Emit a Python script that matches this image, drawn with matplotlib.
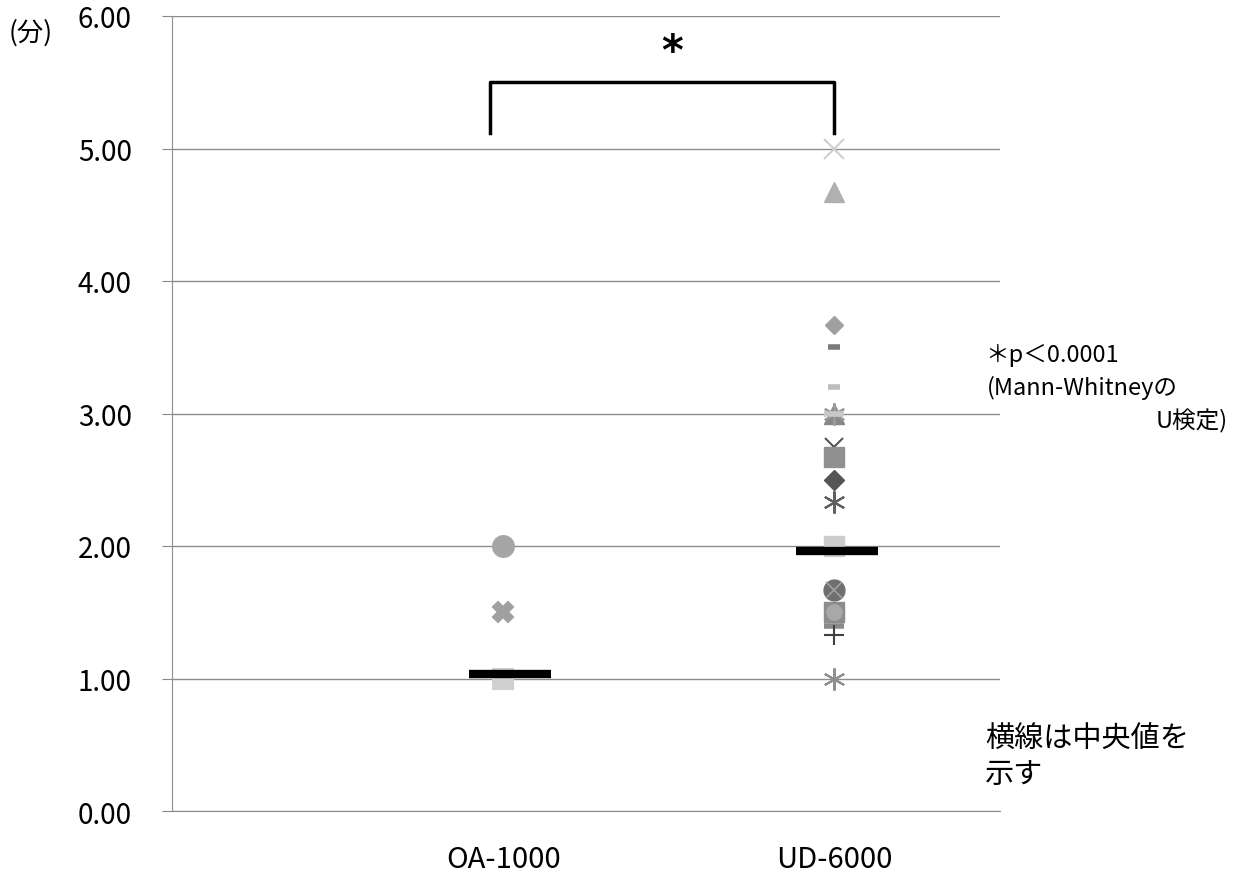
import matplotlib
matplotlib.use("Agg")
import matplotlib.pyplot as plt

plt.rcParams['font.family'] = ['Noto Sans CJK JP', 'DejaVu Sans']

categories = ['OA-1000', 'UD-6000']
oa_values = [2.0, 1.5, 1.0]
ud_values = [5.0, 4.67, 3.67, 3.5, 3.2, 3.0, 3.0, 3.0, 2.75, 2.67, 2.5, 2.33,
             2.0, 1.67, 1.5, 1.4, 1.33, 1.0]
medians = [1.035, 1.966]
yticks = [0, 1, 2, 3, 4, 5, 6]

# マーカーの見た目 (点ごと)
asterisk = (6, 2, 0)
oa_styles = [('o', '#a6a6a6', 15), ('X', '#a0a0a0', 14), ('s', '#d0d0d0', 14)]
ud_styles = [('x', '#cfcfcf', 14), ('^', '#b0b0b0', 14), ('D', '#a0a0a0', 9),
             ('_', '#7a7a7a', 9), ('_', '#bdbdbd', 9), ('^', '#888888', 14),
             (asterisk, '#999999', 16), ('_', '#c8c8c8', 14), ('x', '#555555', 13),
             ('s', '#909090', 15), ('D', '#555555', 10), (asterisk, '#606060', 16),
             ('s', '#cccccc', 14), ('o', '#6f6f6f', 15), ('s', '#8c8c8c', 15),
             ('_', '#8a8a8a', 14), ('+', '#404040', 14), (asterisk, '#8f8f8f', 16)]

fig = plt.figure(figsize=(12.35, 8.79), dpi=100)
ax = fig.add_axes([172 / 1235, 1 - 812 / 879, 828 / 1235, 795 / 879])

for val, (m, c, s) in zip(oa_values, oa_styles):
    ax.plot(1, val, marker=m, color=c, markersize=s, mew=2 if m in ('_', 'x', '+') else 1.5, zorder=3)
for val, (m, c, s) in zip(ud_values, ud_styles):
    mew = 4 if m == '_' else (1.5 if m in ('x', '+') or m == asterisk else 1)
    ax.plot(2, val, marker=m, color=c, markersize=s, mew=mew, zorder=3)
# 丸の上の×印
ax.plot(2, ud_values[13], marker='x', color='#a0a0a0', markersize=11, mew=1.2, zorder=3)
ax.plot(2, ud_values[14], marker='o', color='#a8a8a8', markersize=11, zorder=3)

# 中央値の横線 (少し右にずれている)
for i, med in enumerate(medians):
    cx = i + 1 + (0.02 if i == 0 else 0.008)
    ax.hlines(med, cx - 0.124, cx + 0.124, color='black', linewidth=6, zorder=4)

# 有意差のブラケット
ax.plot([0.96, 0.96, 2.0, 2.0], [5.12, 5.5, 5.5, 5.12], color='black', lw=2.5, zorder=4)
ax.text(1.51, 5.73, '*', ha='center', va='center', fontsize=30, fontweight='bold',
        family='DejaVu Sans')

ax.set_xlim(0, 2.5)
ax.set_ylim(0, 6)
ax.set_yticks(yticks)
ax.set_yticklabels([f'{t:.2f}' for t in yticks], fontsize=20)
ax.set_xticks([1, 2])
ax.set_xticklabels(categories, fontsize=21)
ax.tick_params(axis='x', length=0, pad=24)
ax.tick_params(axis='y', length=7, color='#888888', pad=22)
ax.grid(axis='y', color='#8c8c8c', linewidth=1)
ax.set_axisbelow(True)
for side in ('top', 'right'):
    ax.spines[side].set_visible(False)
for side in ('left', 'bottom'):
    ax.spines[side].set_color('#8c8c8c')

fig.text(9 / 1235, 1 - 33 / 879, '(分)', fontsize=19, va='center')
fig.text(985 / 1235, 1 - 355 / 879, '＊p＜0.0001', fontsize=17, va='center')
fig.text(987 / 1235, 1 - 388 / 879, '(Mann-Whitneyの', fontsize=17, va='center')
fig.text(1228 / 1235, 1 - 421 / 879, 'U検定)', fontsize=17, va='center', ha='right')
fig.text(985 / 1235, 1 - 740 / 879, '横線は中央値を', fontsize=21, va='center')
fig.text(985 / 1235, 1 - 775 / 879, '示す', fontsize=21, va='center')

fig.savefig('out.png', dpi=100)
